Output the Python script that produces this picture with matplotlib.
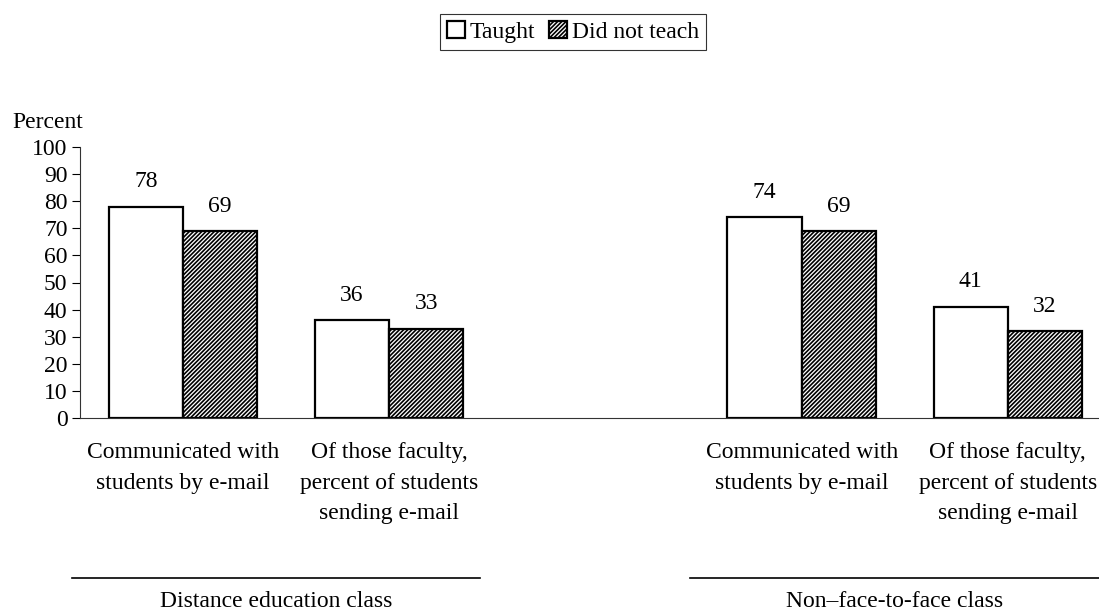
import numpy as np
import matplotlib.pyplot as plt
from matplotlib.transforms import blended_transform_factory
from matplotlib.lines import Line2D

plt.rcParams['font.family'] = ['Liberation Serif', 'DejaVu Serif']
plt.rcParams['hatch.linewidth'] = 1.2

series = ['Taught', 'Did not teach']
categories = ['Communicated with\nstudents by e-mail',
              'Of those faculty,\npercent of students\nsending e-mail',
              'Communicated with\nstudents by e-mail',
              'Of those faculty,\npercent of students\nsending e-mail']
groups = ['Distance education class', 'Non\u2013face-to-face class']
taught = [78, 36, 74, 41]
did_not_teach = [69, 33, 69, 32]

pos = np.array([0, 1, 3, 4])
w = 0.36
fs = 17

fig = plt.figure(figsize=(10.99, 6.16), dpi=100)
ax = fig.add_axes([80 / 1099, 1 - 418 / 616, 1 - 80 / 1099, 271 / 616])

b1 = ax.bar(pos - w / 2, taught, w, facecolor='white', edgecolor='black',
            linewidth=1.6, label=series[0])
b2 = ax.bar(pos + w / 2, did_not_teach, w, facecolor='white', edgecolor='black',
            linewidth=1.6, hatch='////////', label=series[1])

for bars, vals in ((b1, taught), (b2, did_not_teach)):
    for r, v in zip(bars, vals):
        ax.annotate(str(v), (r.get_x() + r.get_width() / 2, v),
                    xytext=(0, 18), textcoords='offset points',
                    ha='center', va='center', fontsize=fs)

ax.set_xlim(-0.4995, 4.442)
ax.set_ylim(0, 100)
ax.set_yticks(range(0, 101, 10))
ax.tick_params(axis='y', labelsize=fs, length=6, width=0.8, pad=3)
ax.set_xticks([])
for s in ('top', 'right'):
    ax.spines[s].set_visible(False)
for s in ('left', 'bottom'):
    ax.spines[s].set_linewidth(0.8)
    ax.spines[s].set_color('#333333')

ax.text(-0.032, 1.092, 'Percent', transform=ax.transAxes, ha='center',
        va='center', fontsize=fs)

trans = blended_transform_factory(ax.transData, ax.transAxes)
for p, lab in zip(pos, categories):
    ax.text(p, -0.09, lab, transform=trans, ha='center', va='top',
            fontsize=fs, linespacing=1.58)

for c, g in zip([0.5, 3.5], groups):
    cx = c - 0.05
    ax.add_line(Line2D([cx - 0.99, cx + 0.99], [-0.59, -0.59], transform=trans,
                       color='black', linewidth=1.2, clip_on=False))
    ax.text(cx, -0.677, g, transform=trans, ha='center', va='center',
            fontsize=fs)

leg = fig.legend(handles=[b1, b2], loc='center', bbox_to_anchor=(573 / 1099, 1 - 32 / 616),
                 ncol=2, fontsize=fs, frameon=True, fancybox=False,
                 handlelength=0.75, handleheight=0.75, handletextpad=0.2,
                 columnspacing=0.6, borderpad=0.3, borderaxespad=0)
leg.get_frame().set_edgecolor('black')
leg.get_frame().set_linewidth(0.8)

fig.savefig('out.png', dpi=100, facecolor='white')
